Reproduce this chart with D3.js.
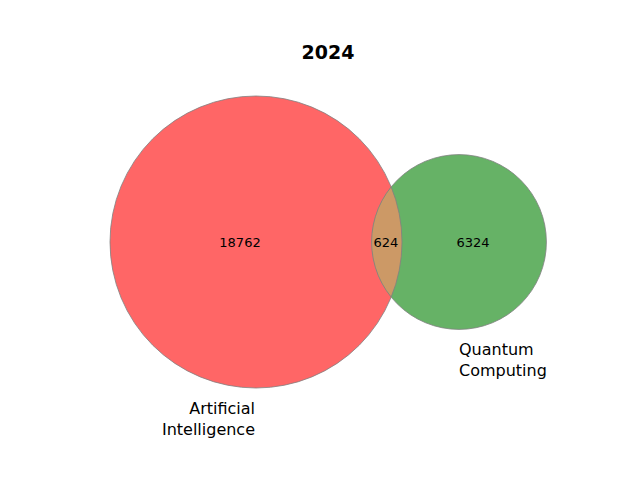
<!DOCTYPE html>
<html><head><meta charset="utf-8">
<script src="https://cdn.jsdelivr.net/npm/d3@7"></script>
<style>body{margin:0;background:#fff}</style></head>
<body><svg id="c" width="640" height="480"></svg>
<script>
const title = "2024";
const setNames = ["Artificial\nIntelligence", "Quantum\nComputing"];
const regionCounts = [18762, 624, 6324]; // A only, both, B only
const setTotals = [regionCounts[0]+regionCounts[1], regionCounts[2]+regionCounts[1]];

const svg = d3.select("#c");
const font = "DejaVu Sans, sans-serif";
const r = d3.scaleSqrt().domain([0, setTotals[0]]).range([0, 146]);
const rA = r(setTotals[0]), rB = r(setTotals[1]);
const x = d3.scaleLinear().domain([0, 1]).range([256, 459]);
const cy = 242;
const cA = x(0), cB = x(1);

svg.append("defs").append("clipPath").attr("id","clipA")
  .append("circle").attr("cx",cA).attr("cy",cy).attr("r",rA);

svg.append("circle").attr("cx",cA).attr("cy",cy).attr("r",rA).attr("fill","#ff6666");
svg.append("circle").attr("cx",cB).attr("cy",cy).attr("r",rB).attr("fill","#66b266");
svg.append("circle").attr("cx",cB).attr("cy",cy).attr("r",rB).attr("fill","#cc9966").attr("clip-path","url(#clipA)");
svg.append("circle").attr("cx",cA).attr("cy",cy).attr("r",rA).attr("fill","none").attr("stroke","#808080").attr("stroke-width",0.8);
svg.append("circle").attr("cx",cB).attr("cy",cy).attr("r",rB).attr("fill","none").attr("stroke","#808080").attr("stroke-width",0.8);

const xIn = (cA + rA + cB - rB)/2;
const nums = [[240, regionCounts[0]], [386, regionCounts[1]], [473, regionCounts[2]]];
nums.forEach(([px, v]) => svg.append("text").attr("x", px).attr("y", cy).attr("dy","0.35em")
  .attr("text-anchor","middle").attr("font-family",font).attr("font-size",13).text(v));

function label(txt, px, py, anchor){
  const t = svg.append("text").attr("x",px).attr("y",py).attr("text-anchor",anchor)
    .attr("font-family",font).attr("font-size",16);
  txt.split("\n").forEach((s,i)=>t.append("tspan").attr("x",px).attr("dy", i?21:0).text(s));
}
label(setNames[0], 255, 414, "end");
label(setNames[1], 459, 355, "start");

svg.append("text").attr("x",328).attr("y",59).attr("text-anchor","middle")
  .attr("font-family",font).attr("font-size",19).attr("font-weight","bold").text(title);
</script></body></html>
